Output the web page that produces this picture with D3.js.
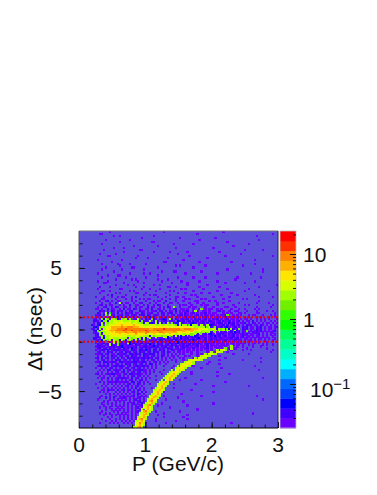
<!DOCTYPE html>
<html><head><meta charset="utf-8"><style>html,body{margin:0;background:#fff}svg{display:block}text{font-family:"Liberation Sans",Arial,sans-serif;fill:#111}</style>
<script src="https://cdnjs.cloudflare.com/ajax/libs/d3/7.8.5/d3.min.js"></script></head><body><svg id="c" width="377" height="495"></svg>
<script>
const xMajor=[0,1,2,3];
const yMajor=[5,0,-5];
const zMajor=[10,1,0.1];
const cutLines=[1,-1];
const levelChars="abcdefghijklmnopqrst";
const levelValues=[.025,.035,.05,.071,.1,.143,.2,.288,.41,.578,.82,1.16,1.65,2.34,3.3,4.7,6.7,9.4,13.4,19];
const paletteColors=["#6a00ff","#4000ff","#0000ff","#0040ff","#0068ff","#00b0ff","#00ffff","#00ffc8","#00ff99","#00ff60","#00ff00","#30ff00","#70f000","#a0ff00","#d8ff00","#ffe600","#ffb000","#ff8000","#ff3000","#ff0000"];
// Sparse background counts, one string per y bin (top to bottom), one char per x bin
const backgroundRows=[
"...............a..........................a.............................a...........................",
"..........aa...............................................a.....................................a..",
".................a..a................a...................................................a..........",
"...............................a..................a.................a...............................",
".............a...........a..................................a.............................a.........",
"....................a...............aa....................................a.........................",
"...........a...................................a.........a...........................a..............",
"...........................a...........a.....................................a......................",
".................a....a.........................a..................a................................",
"............a.................aa...................................................a........a.......",
"......................a..............a.......a........a...............a.............................",
"..........a.......a..............................a...............................a...................",
"..............aa.............a.........................a.................a.......................a...",
"............................a.....a.........a...................a...................................",
".........a...........a..............................a...................................a...........",
"................a.........................aa................a...............a.......................",
"...........a.......a.....a.......a......................................................a...........",
"....................a...........................a.a............a..................a.................",
".............a............aa...........a.................a..........................................",
"...........a.........a..........a.........................................a.................a.......",
".................a.......................a.....aa............a..............................a........",
".........a...............a......a..a.................a...............a................a..............",
"..............a....aa..................a...........................................................",
"...........a...........a.........a...............a.......a.....a...............a...........a........",
"..................a.......a.a..........a....a.................................a.....................",
".........a....a..............a...........a.........a........a........a..................a...........",
"............aa........a.........a.............a.......a..................a.........a................",
"..................a.....a..a.........a..a.............a.........a..................................a",
"..........a....a............a...a...........aa..a...........a.........a...................a..........",
".........a..........aa.........a...a....a..........a.a........a...........a..........a..............",
"...........aa..a.........a.a..........a......a.a.........a...........a.............a...........a...",
"..........a.......a.a.......aa...a.........a.....a...a.......a...a..........a.....................",
"..............a.b......a........a..a.aa......a..........a.a............a.......a........a..........",
"........a...a...a..a.aa...a.b..........a...a....aa..a......a.......a.......a..............a......a.",
"...........aa.....a....a..a...a.a.aa.....a...a..a....a.a.....a.a........a.........a.a...............",
"..........a..ab.a..aa.....a.a....a...a.aa..b....a...a.....aa.....a..a......a..............a.........",
"........a..a...a..b..a.aa..a..ab...a..a...a..aa..a.....a...a..a......a..a.......a........a.....a...",
"..........ab.a.aa...a.a..b..aa..a.a..a.ba...a.....a.aa..a....a.aa....a.......a.....a.a...........a..",
".........a..ab..a.ba..aa.a..a.aa..b.aa..a.a.ba.a..a....a.aa....a...a.....aa...a..........a......a...",
"........aa.a..b.aa..a.b.aa.ba.a..aa.b..aa.a..a.ab..aa.a..a..ab.a.aa..a.a....a...a..a....a.a.........",
"..........bab.a.ba.aab.a.ab...baa.a.aab.ab.a.aa.b.a.aab..a.a..aa.a...ab.a..a..aa....a....a....a..a.",
".........ba.aab.aa.b.a.baab.aa.ba.aab..a.ba.abb.a.aa.ba.ab.a.aab.a.aa...a.a.a...aa.a.....aa.......a",
"........aab.ba.bab.aab.ab.aba.abb.ba.aba.ab.a.ab.aab.ba.a.ab.a.ba.aa.a.aab...a.a.a...a.aa...a...a.a",
"........babb.a.bab.cabab.abb.ab.abac.ba.baab.ab.cab.ab.aabb.a.bab.a.aba.ab.a.a.ab..a.a...a.a...a..a.",
".......ab.abcb.aab.ba.bcab.abb.a.bab.ba.abcb.ab.ba.abab.a.bab.ab.a.bab.a.ab.aa.a.a.aa.a..a.a.a.a...a",
".......bba.cabb.abcba.bbacb.abb.abac.bba.abb.aba.cbab.ab.bab.aba.bba.ab.baab.a.ab.a.aa.b.a.a.a..a.a.",
".......a.bbcab.abb.abcb.bacabb.ab.abcb.bab.ba.bacb.aba.abcb.aab.b.ab.abb.a.cab.a.aab.a.ba.a.a.aa.a.a",
"......ba.bcb.ab.abcb.abb.bcab.aba.bb.cabab.bab.cab.abb.acb.bab.a.bcba.aab.b.ab.ab.a.bab.aa.ba.a.a.a",
".......bca.bab.cb.abba.bcb.abba.cb.abb.cab.ba.bcb.abbab.cab.ba.abcb.abab.bca.ab.a.bab.aa.bab.a.aa.ab",
"......ab.bcab.abcb.bab.ac.abbca.bab.cbabb.acb.abb.cabab.cb.abab.bcb.abab.bacab.ab.bab.aa.bab.a.aa.a",
".......bcab.abcb.bab.bcb.abcab.ba.bca.bab.cbabb.abca.bab.cab.bab.cbab.bab.cab.aba.bab.a.abab.a.a.ab",
".......ab.bcab.abcab.bca.bab.bcba.bab.cbab.ab.cbab.cab.bab.abca.bab.ca.bab.ab.cab.ba.a.baba.a.a.aa.",
"........bb.ab.cab.abcb.bab.cab.bca.bab.abcab.bab.cab.bab.cab.aab.bca.ab.ba.bab.a.abab.aa.ab.a.a.a.a",
"........ab.cb.ab.cabab.cb.bab.acab.bab.cab.bca.bab.cab.ab.cb.aba.ab.cab.ab.aab.a.ab.aa.a.aa.a.a..a.",
".......bb.abc.abab.cab.bab.cab.bab.cab.abab.ca.bab.cabb.ab.bca.b.abab.aba.aab.ab.a.aa.a.a.aa.a.a..a",
"........ab.cb.bab.abca.bab.abab.cb.abab.cb.abab.cab.abab.cb.a.ab.ab.aba.ab.a.ab.aa.a.aa.a.a..a...a.",
"........a.bab.cab.ab.bab.cab.bab.ab.cb.bab.a.bab.cab.ab.ab.aba.b.aab.aa.b.a.aa.a.a.a.a..a.a...a....",
".........bab.ab.bab.abab.ca.bab.ab.cab.bab.ab.bab.aab.ab.bab.a.ab.aa.a.aa.a..a.aa.a..a.a....a.a..a.",
"........a.bab.aab.ab.cab.abab.bab.ab.cab.bab.ab.ba.abab.a.ab.aa.b.a.a.aa.a..a..a..a....a...a.......",
".........ab.ab.bab.ab.bab.cab.ab.bab.ab.aab.bab.ab.ab.aa.b.a.a.ab.a..a.a...a..a.....a.........a....",
"........a.bab.a.ab.bab.ab.bab.ab.cab.ab.bab.a.ba.ab.a.aa.a.a.a..a.a...a.....a.....a...a..........a.",
".........ab.a.bab.a.ab.bab.ab.bab.ab.bab.ab.ba.a.aa.a.a.a..a....a...a.....a.....................a..",
"........a.ab.ab.ab.bab.a.ab.bab.ab.bab.a.ab.a.a.a.a.a...a..a.a.....a.........a.......a.............",
".........a.ab.a.bab.ab.ab.bab.a.bab.ab.a.ba.a.aa.a...a.a...a....a.....a.............................",
"........ab.a.ab.ab.a.ab.bab.ab.ab.bab.ab.a.a.a.a..a.a....a...a...........a.................a.......",
".........a.ab.a.a.bab.ab.a.bab.ab.a.ab.a.a.a..a.a...a......a..........a...........a.................",
"........a.a.ab.ab.a.ab.ab.ab.a.bab.a.ab.a.a.a...a....a...........a.........................a.......",
"..........a.a.b.a.ab.a.bab.ab.ab.a.bb.a.a..a.......a....a.......a.....a.............................",
".........a.ab.a.ab.ab.a.ab.a.bab.ab.a.a...a....a.........a..............................a...........",
"........a..a.a.ab.a.ab.ab.ab.ab.a.a.a.a.......a...a..........a.........a...........................",
"..........a.a.ab.a.ab.a.ab.a.bab.a.a.a....a.........a.....................................a.........",
".........a.a..a.a.ab.ab.a.ab.ab.aa.a.a..a.....a.........a............a.............................",
"........a..a.a.ab.a.a.ab.ab.a.ba.a.a.....a..............a..................a......................",
"..........a.a..a.a.ab.a.a.ab.ab.a.a...a.......a......................a.............................",
".........a..a.a.a.a.ab.ab.a.ba.a.a.a.......a.........a......................................a......",
"...........a..a.a.ab.a.a.ab.a.ab.a....a...........a..........a.....................................",
"..........a.a.a..a.a.ab.a.ab.ab.a.a......a...............................a.........................",
"........a...a.a.a.a.a.a.ab.a.ba.a..a...........a..........a.........................................",
"...........a.a...a.a.a.ab.a.ab.a.......a...........................a.................a.............",
".........a..a.a.a.a.a.a.a.a.b.a.a...a..........a.....................................................",
"...........a...a.a.a..a.ab.a.ba.a......a................a.........................................",
"..........a.a.a...a.a.a.a.ab.a.b.a........a........................a................................",
".............a.a.a.a.a.a.a.a.ba.a...a..............a................................................",
"...........a...a..a.a.a.a.ab.a.a.a........a..................a...........................a..........",
"..........a..a.a.a...a.a.a.a.ab.a.....a..........a..................................................",
".........a.....a.a.a.a.a.a.ab.a.a..........a................................................a.......",
"............a.a...a.a.a..a.a.ab.a.....a.............a..............................................",
"...........a..a.a.a...a.a.ab.a.b.........a.........................a................................",
"............a...a.a.a.a.a.a.a.ab.a.....a..............a..............................................",
"..........a..a.a...a.a..a.a.ab.a....a........a.....................................................",
".............a..a.a.a.a.a.a.a.ab.a.........................a.........................................",
"...........a.....a.a..a.a.a.ab.a.a....a...........a................................................",
"..........a..a.a...a.a.a..a.a.a.b.........a............................................a.............",
"............a...a.a.a.a.a.a.a.ab.a.....a..............a..............................................",
"..............a.a...a.a.a.a.a.a.a.........a.........a...............................................",
"...........a...a..a.a.a.a.a.ab.a.a....a...............a..............................................",
".............a..a.a..a.a.a.a.a.a......a.........a...................................................",
"..........a....a.a.a..a.a.a.a.a..a.........a................................a........................",
];
// Dense bins: [y bin, first x bin, counts from that x bin on]
const denseRows=[
[36,20,"n"],[38,47,"n"],[39,61,"m"],[40,58,"n"],
[41,13,"n.k"],[42,13,"m.n"],[42,74,"m"],
[43,12,"n...m.....n.......m"],
[44,11,"m.nm.nnm..mnn.m...n......m........n"],
[45,12,"mn.nnoonoonnnonnon.m...n..n"],
[46,11,"n.nmonooppoopponoonnm.nn...n.n...n.m...n"],
[47,11,"n.nnooppppqpppppqppoonnnooonnonnonnonm.n.nn.m.nnm.n..n"],
[48,10,"mnnoopqqqqqrqqrrrqqqppooopppopppppopooppoopppooonnonn.mn..m"],
[49,10,"n.noppqqqrrrrsrrrrrrrrrrrqqrrrrrsrrrrrrrrqqrrrqqqqppooonnon.nmn.m.n...m"],
[50,9,"m.noopqqqrrrrsrrrsrrrrrrsrrrrrsrrrrrrrrrrrrqqqqqqppoononnnmn.nmn.nm..n.....m"],
[51,10,"n.noopppqqqqqrqqqrrqqqqrrqqqqqrrqqqqqqqppppppooonnnmn.mn..m"],
[52,10,"m.nopopppppoppppppqpppppoopppoopooooponooonnnnmnn..m"],
[53,11,"n.nnoopoopooonnonoononnn.nmnnnmnn.m..n"],
[54,11,"m.nnoonnnonnn.nmnn.m.n..n"],
[55,12,"n.mn.nnm.n..mn..n...m"],
[56,14,"m..n.m....n"],[57,15,"n...m"],
[58,9,"b.ab..a.ba.b..ab.a.b.a..b.ab"],[60,10,"ab..b.a.b..ab.a..ba.b.a.ab.b"],[62,9,"a.b.ab..a.b.ab..b.a.ab.b.a.b"],
[64,11,"b.a..ab.b..a.ba.b..ab.a.ab"],[66,9,"ab.b.a..ba.b.a..ab.b.a.ba"],[68,10,"b..ab.a.b..ba.ab..b.a.b"],
[70,12,"a.b..ab.a.b.ab..a.b.a"],[72,9,"b.a.ab..b.a..ab.b.a.ba"],[74,11,"a..b.a.ab..b.a.b.ab"],
[76,10,"b.a..ba.b.a.ab..b"],[80,12,"a.b.a..b.ab.a"],[84,10,"a..b.a.b..a.b"],
[60,72,".n"],[58,76,"n"],[59,73,"m..n"],[60,69,"n.oon"],[61,66,"n..ppn"],[62,63,"n.oopn"],
[63,61,"nooon"],[64,58,"n.opon"],[65,55,"nooppon"],[66,53,"noopn"],[67,51,"nooppon"],[68,49,"n.oppon"],
[69,48,"nooppn"],[70,46,"n.opqon"],[71,45,"noppon"],[72,44,"nopqon"],[73,43,"nopqpn"],[74,42,"nopqon"],
[75,41,"n.opqo"],[76,40,"nopqn"],[77,39,"nopqon"],[78,39,"opqon"],[79,38,"nopqn"],[80,37,"nopqon"],
[81,37,"opqpn"],[82,36,"nopqo"],[83,35,"nopqon"],[84,35,"opqpn"],[85,34,"npqpo"],[86,34,"oqrpn"],
[87,33,"nopqn"],[88,32,"noqrn"],[89,32,"opqon"],[90,31,"n.pqon"],[91,31,"oqrpn"],[92,30,"nopqn"],
[93,30,"opqon"],[94,29,"nopqn"],[95,29,"pqrpn"],[96,28,"nopqo"],[97,28,"oprpn"],[98,28,"opqon"],[99,27,"noqrn"]
];
const xTitle="P (GeV/c)";
const yTitle="\u0394t (nsec)";

const svg=d3.select("#c");
const L=79,R=278,T=231,B=428,PL=280,PR=296;
const x=d3.scaleLinear().domain([0,3]).range([L,R]);
const y=d3.scaleLinear().domain([8,-8]).range([T,B]);
const zY=d3.scaleLog().domain([0.021,22.6]).range([B,T]);
const bins=d3.range(100);
const bx=d3.scaleBand().domain(bins).range([L,R]);
const by=d3.scaleBand().domain(bins).range([T,B]);
const zColor=d3.scaleQuantize().domain([Math.log10(0.021),Math.log10(22.6)]).range(paletteColors);

const cells=new Map();
function put(r,c,ch){ if(ch!=="."&&c<100&&r<100) cells.set(r*100+c,{r,c,z:levelValues[levelChars.indexOf(ch)]}); }
backgroundRows.forEach((s,r)=>[...s].forEach((ch,c)=>put(r,c,ch)));
denseRows.forEach(([r,c0,s])=>[...s].forEach((ch,i)=>put(r,c0+i,ch)));

svg.append("rect").attr("x",L).attr("y",T).attr("width",R-L).attr("height",B-T).attr("fill","#5b50d8");
svg.append("g").attr("shape-rendering","crispEdges").selectAll("rect").data([...cells.values()]).join("rect")
  .attr("x",d=>bx(d.c)).attr("y",d=>by(d.r)).attr("width",bx.bandwidth()+.3).attr("height",by.bandwidth()+.3)
  .attr("fill",d=>zColor(Math.log10(d.z)));

svg.append("g").selectAll("line").data(cutLines).join("line")
  .attr("x1",L).attr("x2",R).attr("y1",d=>y(d)).attr("y2",d=>y(d))
  .attr("stroke","#f00000").attr("stroke-width",2).attr("stroke-dasharray","2 2");

// palette
const zEdges=d3.range(21).map(i=>Math.pow(10,Math.log10(0.021)+i*(Math.log10(22.6)-Math.log10(0.021))/20));
svg.append("g").selectAll("rect").data(d3.range(20)).join("rect")
  .attr("x",PL).attr("width",PR-PL).attr("y",i=>zY(zEdges[i+1])).attr("height",i=>zY(zEdges[i])-zY(zEdges[i+1])+.4)
  .attr("fill",i=>zColor(Math.log10(levelValues[i])));
svg.append("rect").attr("x",PL).attr("y",T).attr("width",PR-PL).attr("height",B-T).attr("fill","none").attr("stroke","#bbb").attr("stroke-width",.8);

function clean(g){g.select(".domain").remove();g.selectAll("line").attr("stroke","#111").attr("stroke-width",1);g.selectAll("text").remove();return g;}
svg.append("g").attr("transform",`translate(0,${B})`).call(d3.axisBottom(x).tickValues(d3.range(0,3.01,.2)).tickSizeInner(-3.5).tickFormat("")).call(clean);
svg.append("g").attr("transform",`translate(0,${B})`).call(d3.axisBottom(x).tickValues(xMajor).tickSizeInner(-6).tickFormat("")).call(clean);
svg.append("g").attr("transform",`translate(${L},0)`).call(d3.axisLeft(y).tickValues(d3.range(-7,8)).tickSizeInner(-3.5).tickFormat("")).call(clean);
svg.append("g").attr("transform",`translate(${L},0)`).call(d3.axisLeft(y).tickValues(yMajor).tickSizeInner(-6).tickFormat("")).call(clean);
const zMinor=[.03,.04,.05,.06,.07,.08,.09,.2,.3,.4,.5,.6,.7,.8,.9,2,3,4,5,6,7,8,9,20];
svg.append("g").attr("transform",`translate(${PR},0)`).call(d3.axisRight(zY).tickValues(zMinor).tickSizeInner(-3).tickFormat("")).call(clean);
svg.append("g").attr("transform",`translate(${PR},0)`).call(d3.axisRight(zY).tickValues(zMajor).tickSizeInner(-6).tickFormat("")).call(clean);

// frame
svg.append("line").attr("x1",L).attr("x2",R).attr("y1",T).attr("y2",T).attr("stroke","#777");
svg.append("line").attr("x1",L).attr("x2",L).attr("y1",T).attr("y2",B).attr("stroke","#555");
svg.append("line").attr("x1",R).attr("x2",R).attr("y1",T).attr("y2",B).attr("stroke","#223");
svg.append("line").attr("x1",L).attr("x2",R).attr("y1",B).attr("y2",B).attr("stroke","#000").attr("stroke-width",1.2);

const FS=21;
svg.append("g").selectAll("text").data(xMajor).join("text").attr("x",d=>x(d)).attr("y",452).attr("text-anchor","middle").attr("font-size",FS).text(d=>d);
svg.append("g").selectAll("text").data(yMajor).join("text").attr("x",L-17).attr("y",d=>y(d)+7.5).attr("text-anchor","end").attr("font-size",FS).text(d=>d<0?"\u2212"+(-d):d);
svg.append("text").attr("x",178).attr("y",470.5).attr("text-anchor","middle").attr("font-size",FS).text(xTitle);
svg.append("text").attr("transform","translate(42,329) rotate(-90)").attr("text-anchor","middle").attr("font-size",FS).text(yTitle);
svg.append("text").attr("x",303).attr("y",zY(10)+8).attr("font-size",FS).text("10");
svg.append("text").attr("x",303).attr("y",zY(1)+8).attr("font-size",FS).text("1");
const t=svg.append("text").attr("x",310).attr("y",zY(.1)+13).attr("font-size",FS);
t.append("tspan").text("10");
t.append("tspan").attr("dy",-8).attr("font-size",15).text("\u22121");
</script></body></html>
